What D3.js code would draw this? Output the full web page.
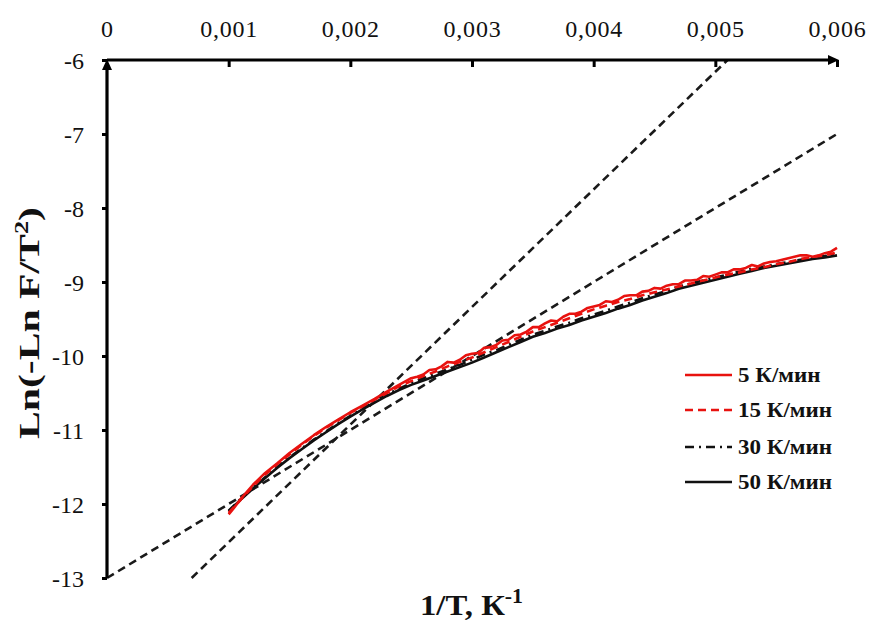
<!DOCTYPE html>
<html><head><meta charset="utf-8">
<script src="https://cdn.jsdelivr.net/npm/d3@7"></script>
<style>body{margin:0;background:#fff}svg{display:block}svg text{font-family:'Liberation Serif','Times New Roman',serif}</style>
</head><body>
<div id="chart"></div>
<script>
// ---------- data ----------
const xTicks = [0, 0.001, 0.002, 0.003, 0.004, 0.005, 0.006];
const xTickLabels = ["0", "0,001", "0,002", "0,003", "0,004", "0,005", "0,006"];
const yTicks = [-6, -7, -8, -9, -10, -11, -12, -13];
const yTickLabels = ["-6", "-7", "-8", "-9", "-10", "-11", "-12", "-13"];

const seriesNames = ["5 К/мин", "15 К/мин", "30 К/мин", "50 К/мин"];

// common 1/T grid for smooth curves
const invT = [0.0010,0.0011,0.0012,0.0013,0.0014,0.0015,0.0016,0.0017,0.0018,0.0019,
  0.0020,0.0021,0.0022,0.0023,0.0024,0.0025,0.0026,0.0027,0.0028,0.0029,
  0.0030,0.0031,0.0032,0.0033,0.0034,0.0035,0.0036,0.0037,0.0038,0.0039,
  0.0040,0.0041,0.0042,0.0043,0.0044,0.0045,0.0046,0.0047,0.0048,0.0049,
  0.0050,0.0051,0.0052,0.0053,0.0054,0.0055,0.0056,0.0057,0.0058,0.0059,0.0060];

const s15 = [-12.12,-11.94,-11.76,-11.60,-11.46,-11.33,-11.20,-11.08,-10.97,-10.87,
  -10.77,-10.68,-10.59,-10.50,-10.41,-10.34,-10.27,-10.21,-10.14,-10.08,
  -10.02,-9.95,-9.88,-9.81,-9.74,-9.67,-9.61,-9.55,-9.49,-9.43,
  -9.37,-9.32,-9.27,-9.23,-9.18,-9.14,-9.10,-9.06,-9.02,-8.98,
  -8.94,-8.90,-8.87,-8.83,-8.80,-8.76,-8.73,-8.69,-8.66,-8.64,-8.60];

const s30 = [-12.09,-11.93,-11.78,-11.64,-11.50,-11.37,-11.25,-11.13,-11.02,-10.91,
  -10.81,-10.71,-10.62,-10.52,-10.44,-10.37,-10.30,-10.24,-10.18,-10.12,
  -10.05,-9.98,-9.92,-9.85,-9.78,-9.71,-9.66,-9.60,-9.55,-9.49,
  -9.44,-9.39,-9.33,-9.28,-9.22,-9.17,-9.12,-9.06,-9.02,-8.98,
  -8.94,-8.90,-8.86,-8.82,-8.79,-8.76,-8.73,-8.70,-8.67,-8.65,-8.62];

const s50 = [-12.10,-11.94,-11.79,-11.65,-11.51,-11.38,-11.26,-11.14,-11.03,-10.92,
  -10.82,-10.72,-10.63,-10.54,-10.46,-10.39,-10.33,-10.27,-10.21,-10.15,
  -10.09,-10.02,-9.95,-9.88,-9.81,-9.74,-9.69,-9.63,-9.58,-9.52,
  -9.47,-9.42,-9.36,-9.31,-9.25,-9.20,-9.15,-9.09,-9.05,-9.01,
  -8.97,-8.93,-8.89,-8.85,-8.81,-8.78,-8.75,-8.72,-8.69,-8.67,-8.64];

// noisy 5 K/min series (finer grid)
const invT5 = [0.00100,0.00105,0.0011,0.0012,0.0013,0.0014,0.0015,0.0016,0.0017,0.0018,0.0019,
  0.0020,0.0021,0.0022,0.0023,0.0024,
  0.00250,0.00255,0.00260,0.00265,0.00270,0.00275,0.00280,0.00285,0.00290,0.00295,
  0.00300,0.00305,0.00310,0.00315,0.00320,0.00325,0.00330,0.00335,0.00340,0.00345,
  0.00350,0.00355,0.00360,0.00365,0.00370,0.00375,0.00380,0.00385,0.00390,0.00395,
  0.00400,0.00405,0.00410,0.00415,0.00420,0.00425,0.00430,0.00435,0.00440,0.00445,
  0.00450,0.00455,0.00460,0.00465,0.00470,0.00475,0.00480,0.00485,0.00490,0.00495,
  0.00500,0.00505,0.00510,0.00515,0.00520,0.00525,0.00530,0.00535,0.00540,0.00545,
  0.00550,0.00555,0.00560,0.00565,0.00570,0.00575,0.00580,0.00585,0.00590,0.00595,0.00600];
const s5 = [-12.14,-12.04,-11.93,-11.74,-11.58,-11.45,-11.31,-11.19,-11.07,-10.96,-10.86,
  -10.76,-10.67,-10.58,-10.48,-10.39,
  -10.30,-10.28,-10.25,-10.19,-10.18,-10.14,-10.08,-10.09,-10.05,-9.99,
  -9.97,-9.96,-9.89,-9.88,-9.85,-9.79,-9.78,-9.72,-9.71,-9.67,
  -9.61,-9.61,-9.56,-9.52,-9.53,-9.47,-9.43,-9.43,-9.40,-9.35,
  -9.33,-9.31,-9.26,-9.27,-9.24,-9.19,-9.18,-9.18,-9.13,-9.12,
  -9.08,-9.09,-9.05,-9.03,-9.03,-8.98,-8.98,-8.97,-8.92,-8.93,
  -8.90,-8.87,-8.87,-8.83,-8.83,-8.81,-8.77,-8.79,-8.75,-8.73,
  -8.72,-8.70,-8.68,-8.66,-8.64,-8.64,-8.66,-8.64,-8.61,-8.59,-8.54];

// tangent (dashed) straight lines: endpoints
const tangentA_x = [0, 0.006], tangentA_y = [-13, -7];
const tangentB_x = [0.000696, 0.0051], tangentB_y = [-13, -6];

// ---------- drawing ----------
const W = 872, H = 624;
const x0 = 107, x1 = 837, yTop = 60, yBot = 578;
const x = d3.scaleLinear().domain([0, 0.006]).range([x0, x1]);
const y = d3.scaleLinear().domain([-6, -13]).range([yTop, yBot]);
const FONT = "'Liberation Serif','Times New Roman',serif";

const svg = d3.select("#chart").append("svg").attr("width", W).attr("height", H)
  .style("font-family", FONT);

const line = d3.line().x(d => x(d[0])).y(d => y(d[1]));
const zip = (a, b) => a.map((v, i) => [v, b[i]]);

// tangents
[[tangentA_x, tangentA_y], [tangentB_x, tangentB_y]].forEach(([tx, ty]) => {
  svg.append("path").attr("d", line(zip(tx, ty))).attr("fill", "none")
    .attr("stroke", "#1a1a1a").attr("stroke-width", 2.6).attr("stroke-dasharray", "8,5");
});

const styles = [
  {color: "#e8120f", dash: null, w: 2.6},
  {color: "#e8120f", dash: "8,5", w: 2.6},
  {color: "#111", dash: "9,5,2,5", w: 2.6},
  {color: "#111", dash: null, w: 2.6}
];

// draw order: 50, 30, 15, 5
svg.append("path").attr("d", line(zip(invT, s50))).attr("fill", "none")
  .attr("stroke", styles[3].color).attr("stroke-width", styles[3].w);
svg.append("path").attr("d", line(zip(invT, s30))).attr("fill", "none")
  .attr("stroke", styles[2].color).attr("stroke-width", styles[2].w).attr("stroke-dasharray", styles[2].dash);
svg.append("path").attr("d", line(zip(invT, s15))).attr("fill", "none")
  .attr("stroke", styles[1].color).attr("stroke-width", styles[1].w).attr("stroke-dasharray", styles[1].dash);
svg.append("path").attr("d", line(zip(invT5, s5))).attr("fill", "none")
  .attr("stroke", styles[0].color).attr("stroke-width", styles[0].w).attr("stroke-linejoin", "round");

// axes
const xAxis = d3.axisTop(x).tickValues(xTicks).tickFormat((d, i) => xTickLabels[i]).tickSizeInner(-7).tickSizeOuter(0);
const gx = svg.append("g").attr("transform", `translate(0,${yTop})`).call(xAxis).attr("font-family", FONT);
gx.select(".domain").remove();
gx.selectAll(".tick line").attr("stroke", "#000").attr("stroke-width", 3);
gx.selectAll(".tick text").attr("y", -23).attr("dy", 0).style("font-size", "24px")
  .style("letter-spacing", "0.8px").attr("fill", "#111");
gx.selectAll(".tick").filter(d => d === 0).select("line").remove();

const yAxis = d3.axisLeft(y).tickValues(yTicks).tickFormat((d, i) => yTickLabels[i]).tickSizeInner(5).tickSizeOuter(0);
const gy = svg.append("g").attr("transform", `translate(${x0},0)`).call(yAxis).attr("font-family", FONT);
gy.select(".domain").remove();
gy.selectAll(".tick line").attr("stroke", "#000").attr("stroke-width", 3);
gy.selectAll(".tick text").attr("x", -23).attr("dy", "0.34em").style("font-size", "24px").attr("fill", "#111");

// axis lines with arrows
svg.append("line").attr("x1", x0).attr("x2", x1 - 6).attr("y1", yTop).attr("y2", yTop)
  .attr("stroke", "#000").attr("stroke-width", 3.2);
svg.append("path").attr("d", `M${x1+2},${yTop} L${x1-9},${yTop-5} L${x1-9},${yTop+5} Z`).attr("fill", "#000");
svg.append("line").attr("x1", x0).attr("x2", x0).attr("y1", yTop + 6).attr("y2", yBot)
  .attr("stroke", "#000").attr("stroke-width", 3.2);
svg.append("path").attr("d", `M${x0},${yTop-1} L${x0-5},${yTop+10} L${x0+5},${yTop+10} Z`).attr("fill", "#000");

// axis titles
const yt = svg.append("text").attr("transform", `translate(39,323) rotate(-90)`)
  .attr("text-anchor", "middle").style("font-size", "30px").style("font-weight", "bold").attr("fill", "#111")
  .attr("textLength", 232).attr("lengthAdjust", "spacingAndGlyphs");
yt.append("tspan").text("Ln(-Ln F/T");
yt.append("tspan").text("2").attr("dy", -11).style("font-size", "19px");
yt.append("tspan").text(")").attr("dy", 11);

const xt = svg.append("text").attr("x", 420).attr("y", 615)
  .style("font-size", "30px").style("font-weight", "bold").attr("fill", "#111");
xt.append("tspan").text("1/T, К");
xt.append("tspan").text("-1").attr("dy", -12).style("font-size", "20px");
xt.attr("textLength", 103).attr("lengthAdjust", "spacingAndGlyphs");

// legend
const legY = [375, 410, 447, 482];
seriesNames.forEach((name, i) => {
  const st = styles[i];
  svg.append("line").attr("x1", 685).attr("x2", 732).attr("y1", legY[i]).attr("y2", legY[i])
    .attr("stroke", st.color).attr("stroke-width", st.w)
    .attr("stroke-dasharray", st.dash);
  const t = svg.append("text").attr("x", 738).attr("y", legY[i] + 7).text(name)
    .style("font-size", "20px").style("font-weight", "bold").attr("fill", "#111");
  const natural = t.node().getComputedTextLength();
  t.attr("textLength", natural * 1.15).attr("lengthAdjust", "spacingAndGlyphs");
});
</script>
</body></html>
